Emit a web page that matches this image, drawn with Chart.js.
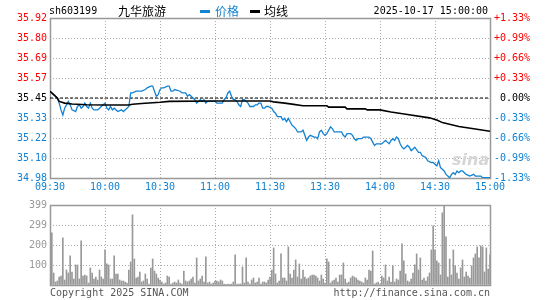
<!DOCTYPE html>
<html>
<head>
<meta charset="utf-8">
<script src="https://cdn.jsdelivr.net/npm/chart.js@4.4.1/dist/chart.umd.min.js"></script>
<style>
  body { margin: 0; width: 545px; height: 300px; background: #fff; position: relative; overflow: hidden; }
  #priceChart { position: absolute; left: 0; top: 0; }
  #volChart { position: absolute; left: 0; top: 196px; }
  .t { position: absolute; white-space: pre; font-family: 'DejaVu Sans Mono', 'Liberation Mono', monospace; font-size: 10px; line-height: 12px; }
  .cn { position: absolute; white-space: pre; font-family: 'Noto Sans CJK SC', sans-serif; font-size: 12px; line-height: 14px; }
  .sw { position: absolute; width: 10px; height: 3px; }
</style>
</head>
<body>
<canvas id="priceChart" width="545" height="196"></canvas>
<canvas id="volChart" width="545" height="104"></canvas>

<span class="t" style="left:49px;top:5px;color:#000">sh603199</span>
<span class="cn" style="left:118px;top:4px;color:#000">九华旅游</span>
<div class="sw" style="left:200px;top:10px;background:#1282d2"></div>
<span class="cn" style="left:215px;top:4px;color:#1282d2">价格</span>
<div class="sw" style="left:250px;top:10px;background:#000"></div>
<span class="cn" style="left:264px;top:4px;color:#000">均线</span>
<span class="t" style="right:57px;top:5px;color:#000">2025-10-17 15:00:00</span>
<span style="position:absolute;left:452px;top:150px;font:italic bold 16px 'DejaVu Sans',sans-serif;color:#d6d6d6">sina</span>
<span class="t" style="left:50px;top:287px;color:#555">Copyright 2025 SINA.COM</span>
<span class="t" style="right:55px;top:287px;color:#555">http://finance.sina.com.cn</span>

<script>
// chart values
const prevClose = 35.45;
const rangePct = 1.33;

const timeLabels = ['09:30', '10:00', '10:30', '11:00', '11:30', '13:30', '14:00', '14:30', '15:00'];
const timeTickMinutes = [0, 30, 60, 90, 120, 150, 180, 210, 240];
const priceTickLabels = ['35.92', '35.80', '35.69', '35.57', '35.45', '35.33', '35.22', '35.10', '34.98'];
const pctTickLabels = ['+1.33%', '+0.99%', '+0.66%', '+0.33%', '0.00%', '-0.33%', '-0.66%', '-0.99%', '-1.33%'];
const volTickLabels = ['399', '299', '200', '100', ''];
const volMax = 399;

// minute index since 09:30 (lunch break skipped) and the price at that minute
const priceMinutes = [0, 2, 4, 5, 6, 7, 8, 9, 10, 11, 12, 14, 15, 16, 17, 18, 19, 20, 21, 22, 23, 24, 26, 27, 28, 30,
  31, 32, 33, 34, 35, 37, 39, 40, 42, 43, 44, 45, 47, 50, 52, 53, 55, 56, 57, 58, 59, 60, 61, 62, 64, 65, 66, 67, 68,
  71, 72, 74, 75, 76, 77, 78, 79, 80, 81, 82, 83, 84, 85, 86, 88, 90, 91, 94, 95, 96, 97, 98, 99, 100, 101, 102, 103,
  104, 105, 106, 107, 108, 109, 111, 112, 113, 114, 115, 116, 117, 118, 119, 121, 122, 123, 124, 126, 127, 128, 129,
  130, 131, 132, 133, 134, 135, 137, 138, 139, 140, 141, 142, 144, 145, 146, 147, 148, 149, 150, 151, 152, 153, 154,
  155, 157, 159, 160, 161, 162, 164, 165, 166, 167, 168, 170, 171, 173, 174, 175, 176, 177, 178, 180, 181, 182, 183,
  184, 185, 186, 187, 188, 189, 190, 191, 192, 193, 194, 195, 196, 197, 198, 199, 201, 202, 203, 205, 206, 208, 209,
  211, 212, 213, 214, 215, 216, 217, 218, 219, 220, 221, 222, 223, 224, 225, 226, 227, 229, 231, 232, 234, 235, 236,
  238, 240];
const priceValues = [35.49, 35.47, 35.45, 35.42, 35.38, 35.35, 35.39, 35.41, 35.43, 35.41, 35.38, 35.37, 35.40, 35.41,
  35.39, 35.40, 35.42, 35.40, 35.39, 35.42, 35.39, 35.38, 35.38, 35.39, 35.40, 35.42,
  35.39, 35.38, 35.40, 35.38, 35.39, 35.37, 35.38, 35.37, 35.39, 35.40, 35.48, 35.48, 35.49, 35.49, 35.50, 35.51,
  35.52, 35.52, 35.49, 35.46, 35.47, 35.50, 35.51, 35.51, 35.52, 35.52, 35.49, 35.49, 35.50,
  35.49, 35.48, 35.48, 35.46, 35.47, 35.46, 35.45, 35.44, 35.42, 35.43, 35.44, 35.43, 35.44, 35.42, 35.43, 35.43,
  35.43, 35.42, 35.42, 35.44, 35.45, 35.48, 35.49, 35.46, 35.44, 35.44, 35.43, 35.41,
  35.40, 35.44, 35.44, 35.43, 35.42, 35.40, 35.40, 35.41, 35.41, 35.42, 35.42, 35.39, 35.39, 35.40, 35.40, 35.39,
  35.37, 35.36, 35.34, 35.34, 35.32, 35.33, 35.31,
  35.33, 35.31, 35.29, 35.28, 35.27, 35.25, 35.25, 35.26, 35.23, 35.20, 35.22, 35.23, 35.22, 35.22, 35.21, 35.25,
  35.26, 35.24, 35.23, 35.24, 35.26, 35.28, 35.27,
  35.25, 35.25, 35.25, 35.23, 35.22, 35.24, 35.24, 35.23, 35.21, 35.20, 35.21, 35.21, 35.22, 35.22, 35.22, 35.21,
  35.19, 35.17, 35.18, 35.18, 35.18, 35.19, 35.20,
  35.19, 35.18, 35.20, 35.21, 35.20, 35.22, 35.21, 35.18, 35.16, 35.15, 35.16, 35.17, 35.16, 35.14, 35.15, 35.16,
  35.13, 35.13, 35.11, 35.10, 35.08, 35.07, 35.07,
  35.05, 35.08, 35.04, 35.03, 35.02, 35.00, 34.99, 34.98, 35.00, 35.01, 35.00, 35.02, 35.01, 35.02, 35.02, 35.01,
  35.00, 34.99, 35.00, 34.99, 34.99, 34.99, 34.98,
  34.98, 34.98];

// average price line
const avgMinutes = [0, 2, 4, 5, 8, 12, 20, 30, 43, 45, 50, 60, 65, 90, 120, 122, 128, 132, 138, 151, 152, 161, 162,
  172, 173, 180, 186, 195, 207, 211, 214, 223, 232, 240];
const avgValues = [35.49, 35.47, 35.45, 35.43, 35.42, 35.415, 35.41, 35.409, 35.409, 35.413, 35.418, 35.425, 35.43,
  35.432, 35.432, 35.427, 35.42, 35.414, 35.404, 35.404, 35.396, 35.396, 35.386, 35.386, 35.38, 35.38, 35.367,
  35.353, 35.333, 35.32, 35.305, 35.282, 35.267, 35.254];

// volume per minute, 241 bars
const volumes = [
  35, 260, 60, 15, 20, 40, 45, 235, 25, 75,
  60, 145, 65, 30, 100, 100, 30, 220, 45, 50,
  45, 10, 85, 60, 30, 40, 25, 75, 40, 30,
  175, 105, 100, 30, 30, 145, 55, 55, 25, 20,
  20, 15, 10, 75, 115, 350, 130, 35, 40, 65,
  15, 20, 55, 30, 5, 85, 130, 70, 55, 35,
  25, 15, 5, 10, 45, 40, 5, 10, 15, 10,
  25, 10, 5, 70, 20, 15, 20, 30, 40, 10,
  135, 20, 30, 45, 15, 140, 10, 15, 5, 10,
  20, 20, 15, 25, 20, 5, 3, 5, 3, 5,
  15, 150, 5, 5, 5, 90, 10, 135, 15, 5,
  25, 35, 10, 15, 35, 5, 15, 15, 10, 25,
  40, 75, 185, 55, 10, 20, 155, 35, 35, 20,
  190, 55, 35, 75, 125, 40, 105, 30, 75, 40,
  30, 35, 45, 50, 50, 45, 35, 20, 50, 30,
  10, 130, 115, 10, 20, 25, 35, 15, 50, 50,
  110, 30, 10, 15, 35, 45, 40, 35, 25, 20,
  15, 10, 35, 25, 75, 70, 170, 5, 10, 15,
  5, 45, 35, 100, 20, 40, 15, 95, 15, 30,
  25, 70, 205, 120, 55, 20, 15, 30, 60, 100,
  155, 75, 135, 25, 35, 20, 40, 60, 175, 295,
  175, 120, 110, 50, 360, 399, 240, 40, 130, 50,
  175, 95, 60, 30, 85, 125, 40, 65, 45, 35,
  95, 135, 155, 190, 135, 195, 190, 65, 185, 80,
  150
];

const RED = '#ff0000';
const BLUE = '#1282d2';
const GRID = '#aaaaaa';
const MONO = "'DejaVu Sans Mono', 'Liberation Mono', monospace";

const yMin = prevClose * (1 - rangePct / 100);
const yMax = prevClose * (1 + rangePct / 100);

function evenTicks(min, max, n) {
  const out = [];
  for (let k = 0; k <= n; k++) out.push({ value: min + (max - min) * k / n });
  return out;
}

function levelColor(ctx) {
  if (ctx.index > 4) return RED;
  if (ctx.index === 4) return '#000';
  return BLUE;
}

// grey frame round the plot area
const framePlugin = {
  id: 'frame',
  beforeDatasetsDraw(chart) {
    const a = chart.chartArea;
    const c = chart.ctx;
    c.save();
    c.strokeStyle = '#999';
    c.lineWidth = 1.5;
    c.strokeRect(Math.round(a.left) + 0.5, Math.round(a.top) + 0.5,
      Math.round(a.right - a.left), Math.round(a.bottom - a.top));
    c.restore();
  }
};

function timeAxis(showLabels, height) {
  return {
    type: 'linear', min: 0, max: 240, offset: false,
    afterBuildTicks: s => { s.ticks = timeTickMinutes.map(v => ({ value: v })); },
    afterFit: s => { s.height = height; },
    ticks: {
      display: showLabels, autoSkip: false, maxRotation: 0, padding: 3,
      color: BLUE, font: { family: MONO, size: 10 },
      callback: (v, i) => timeLabels[i]
    },
    grid: { color: GRID, drawTicks: false, offset: false },
    border: { display: false, dash: [1, 2] }
  };
}

function createPriceChart() {
  const ctx = document.getElementById('priceChart').getContext('2d');
  return new Chart(ctx, {
    type: 'line',
    data: {
      datasets: [
        {
          data: avgMinutes.map((m, i) => ({ x: m, y: avgValues[i] })),
          borderColor: '#000', borderWidth: 1.6, pointRadius: 0, order: 0
        },
        {
          data: priceMinutes.map((m, i) => ({ x: m, y: priceValues[i] })),
          borderColor: BLUE, borderWidth: 1.3, pointRadius: 0, order: 1
        },
        {
          data: [{ x: 0, y: prevClose }, { x: 240, y: prevClose }],
          borderColor: '#000', borderWidth: 1, borderDash: [3, 2], pointRadius: 0, order: 2
        }
      ]
    },
    options: {
      responsive: false, animation: false,
      layout: { padding: { top: 18, left: 0, right: 0, bottom: 0 } },
      plugins: { legend: { display: false }, tooltip: { enabled: false } },
      elements: { line: { tension: 0 } },
      scales: {
        x: timeAxis(true, 18),
        y: {
          position: 'left', min: yMin, max: yMax,
          afterBuildTicks: s => { s.ticks = evenTicks(yMin, yMax, 8); },
          afterFit: s => { s.width = 50; },
          ticks: {
            padding: 3, font: { family: MONO, size: 10 }, color: levelColor,
            callback: (v, i) => priceTickLabels[8 - i]
          },
          grid: { color: GRID, drawTicks: false },
          border: { display: false, dash: [1, 2] }
        },
        y2: {
          position: 'right', min: yMin, max: yMax,
          afterBuildTicks: s => { s.ticks = evenTicks(yMin, yMax, 8); },
          afterFit: s => { s.width = 55; },
          ticks: {
            padding: 4, font: { family: MONO, size: 10 }, color: levelColor,
            callback: (v, i) => pctTickLabels[8 - i].padStart(6, ' ')
          },
          grid: { display: false, drawTicks: false },
          border: { display: false }
        }
      }
    },
    plugins: [framePlugin]
  });
}

function createVolumeChart() {
  const ctx = document.getElementById('volChart').getContext('2d');
  return new Chart(ctx, {
    type: 'bar',
    data: {
      datasets: [{
        data: volumes.map((v, i) => ({ x: i, y: v })),
        backgroundColor: '#999', barThickness: 1
      }]
    },
    options: {
      responsive: false, animation: false,
      layout: { padding: { top: 5, left: 0, right: 55, bottom: 15 } },
      plugins: { legend: { display: false }, tooltip: { enabled: false } },
      scales: {
        x: timeAxis(false, 0),
        y: {
          position: 'left', min: 0, max: volMax,
          afterBuildTicks: s => { s.ticks = evenTicks(0, volMax, 4); },
          afterFit: s => { s.width = 50; },
          ticks: {
            padding: 3, font: { family: MONO, size: 10 }, color: '#999',
            callback: (v, i) => volTickLabels[4 - i]
          },
          grid: { color: GRID, drawTicks: false },
          border: { display: false, dash: [1, 2] }
        }
      }
    },
    plugins: [framePlugin]
  });
}

createPriceChart();
createVolumeChart();
</script>
</body>
</html>
